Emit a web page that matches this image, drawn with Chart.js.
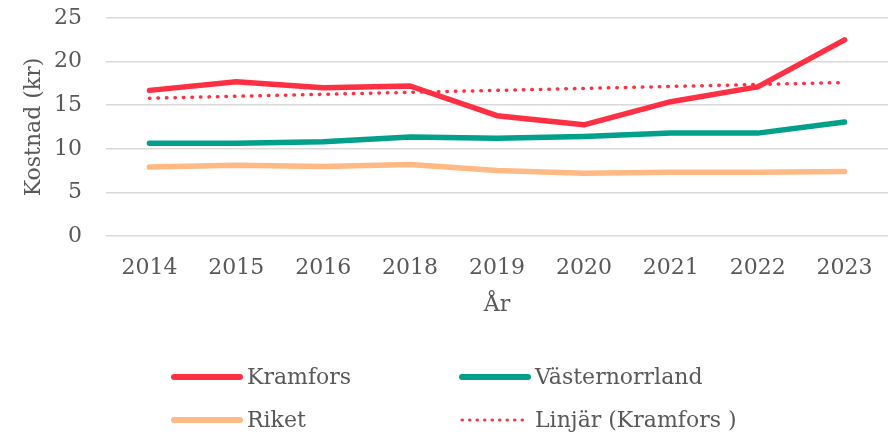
<!DOCTYPE html>
<html lang="sv">
<head>
<meta charset="utf-8">
<title>Kostnad per år</title>
<script src="https://cdn.jsdelivr.net/npm/chart.js@4"></script>
<style>
  html, body { margin: 0; padding: 0; background: #fff; }
  #wrap { width: 893px; height: 433px; position: relative; }
</style>
</head>
<body>
<div id="wrap"><canvas id="chart"></canvas></div>
<script>
// Data
const years        = ['2014', '2015', '2016', '2018', '2019', '2020', '2021', '2022', '2023'];
const kramfors     = [16.7, 17.7, 17.0, 17.2, 13.8, 12.75, 15.4, 17.1, 22.5];
const vasternorrl  = [10.65, 10.65, 10.8, 11.35, 11.2, 11.4, 11.8, 11.8, 13.07];
const riket        = [7.9, 8.1, 7.97, 8.2, 7.5, 7.2, 7.3, 7.3, 7.4];
// trend line endpoints, the gap is bridged with spanGaps
const trendKramfors = [15.8, null, null, null, null, null, null, null, 17.6];
const yTicks       = [0, 5, 10, 15, 20, 25];

const FONT  = "'DejaVu Serif', 'Liberation Serif', serif";
const FSIZE = 22;
const TXT   = '#595959';
const GRID  = '#D9D9D9';
const RED   = '#FF3043';
const TEAL  = '#00A08A';
const PEACH = '#FFB985';

// 2x2 legend under the axis, Excel style
const gridLegend = {
  id: 'gridLegend',
  afterDraw(chart) {
    const cx = chart.ctx;
    const cols = [172, 460], rows = [377, 420];
    cx.save();
    cx.font = FSIZE + 'px ' + FONT;
    cx.fillStyle = TXT;
    cx.textBaseline = 'middle';
    chart.data.datasets.forEach((ds, i) => {
      const x = cols[i % 2], y = rows[Math.floor(i / 2)];
      cx.beginPath();
      cx.strokeStyle = ds.borderColor;
      cx.lineCap = 'round';
      if (ds.borderDash && ds.borderDash.length) {
        cx.lineWidth = 3;
        cx.setLineDash([0.5, 7]);
      } else {
        cx.lineWidth = 6;
        cx.setLineDash([]);
      }
      cx.moveTo(x + 2, y);
      cx.lineTo(x + 68, y);
      cx.stroke();
      cx.setLineDash([]);
      cx.fillText(ds.label, x + 75, y + 1);
    });
    cx.restore();
  }
};

new Chart(document.getElementById('chart'), {
  type: 'line',
  data: {
    labels: years,
    datasets: [
      { label: 'Kramfors', data: kramfors, borderColor: RED, borderWidth: 5.5 },
      { label: 'Västernorrland', data: vasternorrl, borderColor: TEAL, borderWidth: 5.5 },
      { label: 'Riket', data: riket, borderColor: PEACH, borderWidth: 5.5 },
      { label: 'Linjär (Kramfors )', data: trendKramfors, borderColor: RED, borderWidth: 3.5,
        borderDash: [0.5, 8], borderCapStyle: 'round', spanGaps: true },
    ],
  },
  options: {
    responsive: true,
    maintainAspectRatio: false,
    animation: false,
    layout: { padding: { top: 18, right: 5, bottom: 112, left: 0 } },
    elements: {
      point: { radius: 0, hoverRadius: 0 },
      line: { tension: 0, borderJoinStyle: 'round', borderCapStyle: 'round' },
    },
    plugins: { legend: { display: false }, tooltip: { enabled: false } },
    scales: {
      x: {
        offset: true,
        grid: { display: false, drawTicks: false, offset: true },
        border: { display: false },
        ticks: { color: TXT, font: { family: FONT, size: FSIZE }, padding: 19, maxRotation: 0, autoSkip: false },
        title: { display: true, text: 'År', color: TXT, font: { family: FONT, size: FSIZE }, padding: { top: 0, bottom: 3 } },
        afterFit(s) { s.height = 85; },
      },
      y: {
        min: 0, max: 25,
        afterBuildTicks(s) { s.ticks = yTicks.map(v => ({ value: v })); },
        grid: { color: GRID, lineWidth: 1.5, drawTicks: false },
        border: { display: false },
        ticks: { color: TXT, font: { family: FONT, size: FSIZE }, padding: 24 },
        title: { display: true, text: 'Kostnad (kr)', color: TXT, font: { family: FONT, size: FSIZE }, padding: { top: 21, bottom: 0 } },
        // fixed axis width, and no extra room reserved above the top label
        afterFit(s) { s.width = 106; s.paddingTop = 0; s.paddingBottom = 0; },
      },
    },
  },
  plugins: [gridLegend],
});
</script>
</body>
</html>
